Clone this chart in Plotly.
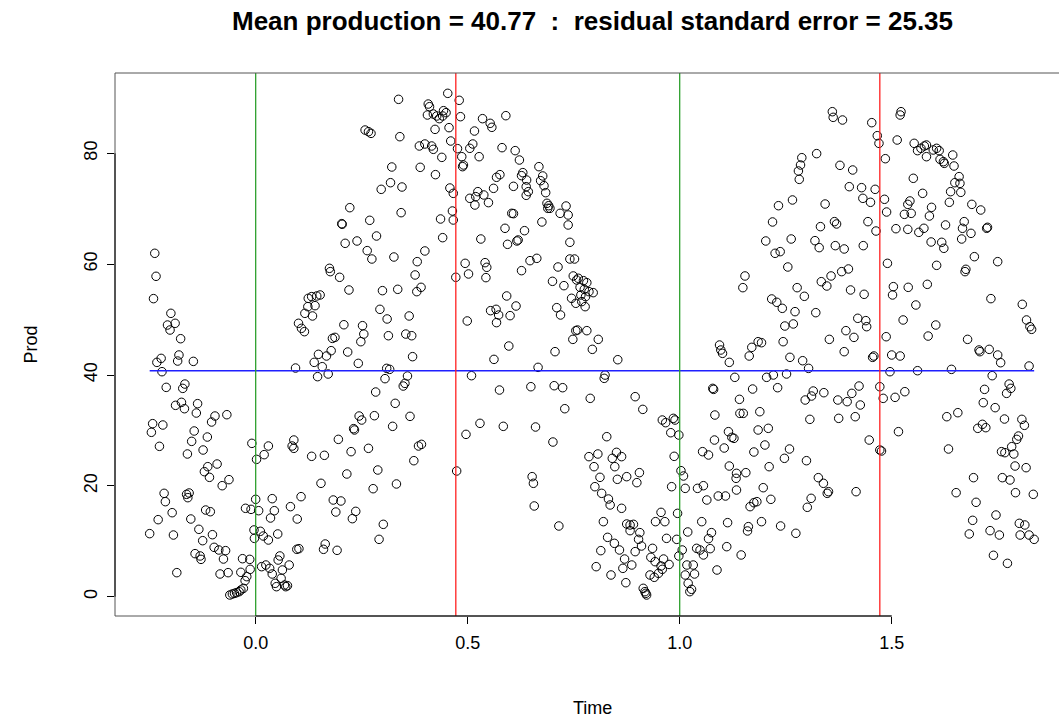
import plotly.graph_objects as go

# ---- data: production readings against time (cycle units) ----
time_1 = [-0.238, -0.235, -0.241, -0.200, -0.190, -0.208, -0.202, -0.177, -0.223, -0.233,
          -0.181, -0.184, -0.147, -0.221, -0.211, -0.167, -0.172, -0.189, -0.175, -0.168,
          -0.137, -0.140, -0.096, -0.104, -0.068, -0.243, -0.219, -0.246, -0.145, -0.151,
          -0.114, -0.227, -0.161, -0.124, -0.009, 0.002, 0.020, -0.091, -0.113, -0.121,
          -0.109, -0.063, -0.079, -0.216, -0.213, -0.163, -0.157, -0.160, -0.024, -0.011,
          0.000, 0.007, -0.118, -0.107, -0.197, -0.230, -0.153, -0.250, -0.194, -0.134,
          -0.102, -0.125, -0.004, 0.011, -0.003, 0.018, -0.098, -0.087, -0.071, -0.076,
          -0.143, -0.131, -0.129, -0.031, -0.014, 0.014, -0.186, -0.084, -0.065, -0.035,
          -0.013, -0.021, -0.025, -0.061, -0.055, -0.050, -0.045, -0.039, -0.035, -0.029,
          0.024]
prod_1 = [61.96, 57.81, 53.78, 51.13, 49.33, 49.02, 48.12, 46.55, 43.00, 42.28,
          43.61, 42.52, 42.46, 40.60, 37.77, 38.37, 37.59, 34.53, 35.07, 33.92,
          34.83, 33.14, 32.60, 31.52, 32.84, 31.22, 30.98, 29.66, 29.90, 28.03,
          28.81, 27.13, 25.75, 26.47, 27.67, 24.78, 25.63, 23.94, 23.46, 22.56,
          21.54, 21.12, 20.03, 18.65, 17.15, 18.47, 18.71, 17.87, 15.95, 15.76,
          17.57, 15.52, 15.64, 15.34, 15.16, 13.90, 14.02, 11.38, 11.13, 12.16,
          11.19, 10.11, 12.04, 11.80, 10.53, 10.95, 8.91, 8.43, 8.31, 6.80,
          7.77, 7.35, 6.74, 6.86, 6.74, 5.42, 4.34, 4.10, 4.34, 4.40,
          4.94, 3.62, 2.90, 0.31, 0.49, 0.61, 0.73, 0.91, 1.21, 1.51,
          5.72]

time_2 = [0.337, 0.258, 0.266, 0.272, 0.340, 0.386, 0.321, 0.388, 0.318, 0.296,
          0.345, 0.222, 0.204, 0.203, 0.269, 0.343, 0.285, 0.211, 0.239, 0.263,
          0.274, 0.326, 0.381, 0.376, 0.174, 0.176, 0.198, 0.220, 0.299, 0.335,
          0.380, 0.390, 0.124, 0.132, 0.144, 0.152, 0.123, 0.140, 0.116, 0.134,
          0.101, 0.208, 0.293, 0.310, 0.362, 0.108, 0.115, 0.252, 0.313, 0.354,
          0.368, 0.255, 0.248, 0.181, 0.187, 0.370, 0.178, 0.217, 0.167, 0.148,
          0.138, 0.157, 0.242, 0.094, 0.146, 0.171, 0.309, 0.316, 0.305, 0.358,
          0.352, 0.348, 0.283, 0.329, 0.244, 0.250, 0.231, 0.233, 0.280, 0.323,
          0.364, 0.030, 0.090, 0.086, 0.090, 0.132, 0.162, 0.195, 0.225, 0.266,
          0.384, 0.391, 0.373, 0.288, 0.215, 0.154, 0.277, 0.332, 0.039, 0.107,
          0.082, 0.044, 0.035, 0.098, 0.183, 0.201, 0.189, 0.236, 0.228, 0.301,
          0.291, 0.052, 0.030, 0.097, 0.102, 0.160, 0.164, 0.192, 0.057, 0.053,
          0.079, 0.033, 0.039, 0.063, 0.046, 0.049, 0.060, 0.068, 0.071, 0.075]
prod_2 = [89.74, 84.20, 83.90, 83.60, 83.00, 81.32, 77.53, 77.47, 74.70, 73.50,
          73.92, 70.19, 67.19, 67.31, 67.91, 69.29, 65.08, 63.76, 64.18, 62.44,
          60.93, 61.29, 60.45, 58.05, 59.25, 58.65, 57.63, 55.34, 55.22, 55.46,
          55.04, 55.82, 53.84, 54.14, 54.26, 54.44, 52.33, 52.51, 51.13, 50.65,
          49.33, 49.07, 51.85, 50.11, 50.65, 48.42, 47.82, 48.90, 47.09, 47.39,
          47.09, 47.39, 46.01, 46.61, 46.79, 43.31, 44.39, 44.15, 43.43, 43.73,
          42.28, 41.50, 42.10, 41.26, 39.70, 40.18, 41.20, 41.02, 39.34, 39.82,
          38.49, 38.01, 36.93, 34.89, 32.60, 31.88, 30.32, 30.08, 32.66, 30.74,
          32.54, 27.19, 28.27, 27.19, 26.77, 25.33, 25.51, 28.39, 26.17, 26.77,
          27.19, 27.49, 24.54, 22.86, 22.14, 20.46, 19.49, 20.34, 17.69, 18.05,
          16.25, 15.52, 14.20, 14.02, 17.45, 17.27, 15.28, 15.40, 14.08, 13.06,
          10.35, 11.32, 10.23, 8.55, 8.67, 8.55, 9.51, 8.37, 7.35, 6.62,
          5.72, 5.12, 4.10, 4.82, 2.42, 1.81, 3.32, 2.11, 1.81, 1.99]

time_3 = [0.453, 0.480, 0.407, 0.410, 0.405, 0.419, 0.427, 0.433, 0.443, 0.449,
          0.441, 0.483, 0.535, 0.553, 0.557, 0.590, 0.456, 0.423, 0.516, 0.460,
          0.399, 0.415, 0.419, 0.476, 0.505, 0.512, 0.486, 0.527, 0.439, 0.490,
          0.488, 0.581, 0.612, 0.622, 0.668, 0.424, 0.576, 0.568, 0.627, 0.630,
          0.639, 0.677, 0.672, 0.680, 0.684, 0.608, 0.638, 0.643, 0.638, 0.561,
          0.458, 0.466, 0.505, 0.519, 0.524, 0.538, 0.517, 0.549, 0.687, 0.691,
          0.694, 0.689, 0.732, 0.718, 0.737, 0.737, 0.604, 0.608, 0.464, 0.466,
          0.436, 0.675, 0.588, 0.634, 0.619, 0.616, 0.594, 0.531, 0.441, 0.399,
          0.741, 0.494, 0.502, 0.541, 0.545, 0.543, 0.472, 0.627, 0.647, 0.663,
          0.713, 0.741, 0.752, 0.749, 0.757, 0.700, 0.727, 0.592, 0.614, 0.600,
          0.554, 0.567, 0.573, 0.568, 0.499, 0.710, 0.719, 0.745, 0.755, 0.755,
          0.748, 0.597, 0.562, 0.706, 0.666, 0.509, 0.575, 0.649, 0.704, 0.724,
          0.729, 0.529, 0.496, 0.584, 0.660, 0.701, 0.474, 0.652, 0.655, 0.657,
          0.715, 0.761, 0.773, 0.781, 0.765, 0.775, 0.786, 0.796, 0.767, 0.778,
          0.769, 0.777]
prod_3 = [90.82, 89.56, 88.89, 88.41, 86.91, 87.09, 86.73, 86.25, 87.69, 87.33,
          86.73, 86.61, 86.25, 85.41, 84.69, 86.79, 84.63, 84.32, 84.02, 82.22,
          81.68, 81.32, 80.72, 80.84, 80.90, 81.68, 79.39, 79.39, 79.27, 77.89,
          77.59, 81.02, 80.48, 78.79, 77.59, 76.15, 76.15, 75.67, 75.97, 76.51,
          75.18, 75.91, 75.06, 74.16, 72.90, 74.04, 73.98, 73.08, 72.42, 73.68,
          73.74, 72.78, 71.88, 72.18, 73.08, 72.48, 70.67, 71.10, 70.98, 70.55,
          70.07, 70.07, 70.49, 69.17, 68.87, 67.07, 69.17, 69.11, 69.59, 67.97,
          68.15, 67.61, 66.47, 66.04, 64.36, 64.18, 63.58, 64.54, 64.78, 62.38,
          63.94, 60.15, 58.23, 60.27, 59.43, 57.57, 57.63, 58.83, 60.63, 61.05,
          59.49, 60.93, 60.93, 57.87, 57.14, 56.90, 56.12, 54.26, 52.45, 50.71,
          51.61, 51.85, 50.83, 49.45, 49.75, 52.15, 50.83, 53.84, 52.94, 48.00,
          46.43, 45.23, 42.82, 44.21, 41.38, 39.88, 37.29, 37.89, 38.07, 37.71,
          33.92, 31.28, 29.29, 30.74, 30.62, 27.91, 22.68, 21.66, 20.46, 16.37,
          12.76, 57.45, 57.02, 56.66, 55.82, 55.46, 55.04, 54.86, 54.44, 54.14,
          53.24, 52.33]

time_4 = [0.759, 0.781, 0.808, 0.794, 0.854, 0.824, 0.822, 0.789, 0.895, 0.913,
          0.959, 0.967, 0.985, 0.989, 0.979, 0.998, 0.828, 0.987, 0.786, 0.807,
          0.798, 0.841, 0.851, 0.863, 0.847, 1.003, 1.009, 0.812, 0.853, 0.875,
          0.905, 0.899, 0.800, 0.816, 0.832, 0.836, 0.863, 0.981, 1.013, 1.042,
          1.056, 1.064, 1.091, 1.108, 0.956, 0.995, 0.943, 0.965, 0.820, 0.875,
          0.883, 0.891, 0.883, 0.906, 0.903, 0.830, 0.846, 0.814, 0.858, 0.910,
          0.895, 0.936, 0.969, 0.993, 1.019, 1.052, 1.075, 1.068, 1.006, 0.998,
          1.040, 1.048, 1.056, 1.072, 0.870, 0.866, 0.887, 0.803, 0.838, 0.873,
          0.932, 0.942, 0.962, 0.956, 0.930, 0.940, 0.950, 0.975, 0.959, 1.017,
          1.032, 1.013, 1.035, 1.020, 1.028, 1.024, 0.914, 0.918, 0.922, 0.920,
          1.088, 1.111, 1.113, 1.117, 1.083, 1.082, 1.105, 1.054, 1.068, 1.078,
          1.080, 1.094, 1.097, 1.101, 1.117, 1.115, 1.123]
prod_4 = [48.12, 48.00, 46.43, 44.63, 42.76, 39.99, 39.40, 35.79, 36.09, 33.80,
          31.88, 31.40, 32.18, 31.88, 29.59, 29.17, 28.87, 25.33, 25.27, 25.75,
          23.46, 24.97, 26.05, 25.27, 23.46, 22.74, 21.78, 21.54, 21.18, 21.66,
          22.38, 20.58, 19.85, 18.65, 17.63, 16.55, 15.95, 19.85, 19.55, 19.55,
          20.03, 17.45, 18.17, 18.17, 15.22, 15.04, 13.54, 13.54, 13.54, 13.12,
          12.94, 13.06, 11.92, 11.56, 10.35, 10.71, 9.63, 8.31, 8.43, 9.15,
          8.13, 8.73, 10.53, 10.35, 11.68, 13.54, 11.56, 10.47, 8.43, 7.35,
          8.73, 8.43, 7.53, 8.67, 6.80, 5.12, 5.72, 5.42, 3.92, 2.53,
          7.10, 6.32, 6.80, 5.54, 3.92, 3.50, 4.22, 5.82, 4.94, 5.72,
          5.72, 3.92, 4.10, 2.42, 1.33, 0.91, 1.51, 0.91, 0.31, 0.61,
          4.82, 9.03, 13.36, 23.58, 32.78, 28.27, 26.83, 26.17, 25.57, 37.59,
          37.41, 45.41, 44.51, 43.91, 42.28, 29.78, 28.75]

time_5 = [1.360, 1.362, 1.384, 1.453, 1.466, 1.470, 1.485, 1.323, 1.288, 1.285,
          1.280, 1.282, 1.378, 1.408, 1.400, 1.429, 1.461, 1.432, 1.450, 1.483,
          1.488, 1.266, 1.233, 1.343, 1.219, 1.332, 1.365, 1.370, 1.444, 1.463,
          1.203, 1.263, 1.225, 1.237, 1.319, 1.329, 1.367, 1.388, 1.433, 1.255,
          1.490, 1.154, 1.149, 1.277, 1.294, 1.334, 1.347, 1.357, 1.382, 1.398,
          1.403, 1.435, 1.217, 1.229, 1.242, 1.272, 1.321, 1.268, 1.420, 1.439,
          1.248, 1.392, 1.411, 1.441, 1.353, 1.388, 1.244, 1.193, 1.185, 1.170,
          1.164, 1.260, 1.290, 1.304, 1.455, 1.458, 1.487, 1.130, 1.205, 1.221,
          1.252, 1.231, 1.172, 1.141, 1.315, 1.311, 1.296, 1.340, 1.373, 1.395,
          1.406, 1.423, 1.426, 1.472, 1.480, 1.307, 1.375, 1.414, 1.447, 1.476,
          1.472, 1.189, 1.150, 1.142, 1.128, 1.185, 1.209, 1.201, 1.175, 1.259,
          1.247, 1.299, 1.211, 1.327, 1.339, 1.351, 1.348, 1.416, 1.134, 1.133,
          1.156, 1.134, 1.197, 1.215, 1.175, 1.182, 1.166, 1.310, 1.301, 1.162,
          1.160, 1.193, 1.238, 1.274, 1.145]
prod_5 = [87.51, 86.49, 86.01, 85.53, 83.18, 81.80, 79.03, 79.94, 79.21, 77.89,
          76.81, 75.30, 77.83, 76.99, 73.98, 73.80, 73.50, 71.88, 71.16, 71.70,
          69.41, 71.58, 70.55, 70.85, 67.61, 66.77, 67.67, 67.25, 67.67, 65.98,
          64.18, 64.54, 61.96, 62.26, 64.24, 62.98, 63.34, 62.74, 63.34, 59.49,
          60.15, 57.87, 55.76, 55.76, 54.20, 56.84, 56.06, 57.87, 58.65, 59.13,
          55.34, 54.56, 53.72, 53.12, 52.03, 51.43, 51.25, 49.21, 50.23, 49.81,
          48.84, 48.00, 46.79, 48.72, 46.43, 44.21, 46.01, 45.83, 46.01, 44.99,
          43.43, 43.19, 42.58, 41.20, 43.19, 43.43, 46.91, 39.58, 39.58, 40.00,
          40.18, 37.71, 37.47, 35.61, 37.11, 36.21, 35.49, 36.81, 35.49, 35.19,
          36.69, 38.01, 34.59, 37.89, 35.79, 32.00, 32.18, 32.48, 28.27, 26.29,
          26.47, 33.38, 33.08, 33.08, 28.57, 30.08, 30.38, 27.37, 26.11, 26.65,
          24.97, 24.54, 23.46, 21.48, 20.46, 18.95, 18.65, 18.95, 22.26, 21.36,
          22.38, 19.25, 19.67, 17.57, 16.97, 17.15, 16.25, 17.75, 16.13, 12.64,
          11.86, 13.54, 12.76, 11.44, 7.53]

time_6 = [1.522, 1.520, 1.513, 1.553, 1.561, 1.569, 1.577, 1.582, 1.582, 1.598,
          1.606, 1.612, 1.614, 1.622, 1.624, 1.644, 1.647, 1.551, 1.573, 1.659,
          1.649, 1.661, 1.639, 1.663, 1.636, 1.689, 1.710, 1.543, 1.538, 1.530,
          1.546, 1.594, 1.589, 1.510, 1.538, 1.564, 1.576, 1.627, 1.671, 1.667,
          1.687, 1.665, 1.593, 1.618, 1.623, 1.724, 1.726, 1.606, 1.695, 1.675,
          1.673, 1.750, 1.504, 1.502, 1.539, 1.584, 1.557, 1.734, 1.808, 1.527,
          1.818, 1.604, 1.586, 1.679, 1.706, 1.708, 1.730, 1.750, 1.757, 1.826,
          1.830, 1.500, 1.520, 1.496, 1.561, 1.641, 1.824, 1.737, 1.777, 1.781,
          1.771, 1.719, 1.716, 1.744, 1.766, 1.807, 1.813, 1.703, 1.714, 1.722,
          1.799, 1.795, 1.783, 1.759, 1.767, 1.788, 1.791, 1.817, 1.531, 1.508,
          1.630, 1.656, 1.516, 1.634, 1.693, 1.761, 1.779, 1.792, 1.834, 1.652,
          1.699, 1.746, 1.691, 1.683, 1.732, 1.754, 1.801, 1.814, 1.803, 1.824,
          1.836, 1.740, 1.773]
prod_6 = [87.51, 86.91, 82.40, 81.80, 80.48, 80.90, 81.32, 81.50, 79.39, 80.60,
          80.90, 80.48, 78.91, 78.49, 78.19, 79.69, 77.71, 75.49, 72.78, 75.79,
          74.70, 74.58, 73.08, 72.96, 71.16, 70.79, 69.77, 71.40, 70.79, 68.99,
          69.17, 70.25, 68.69, 66.40, 66.28, 65.74, 66.47, 67.07, 67.67, 66.47,
          65.56, 64.54, 64.00, 63.94, 62.86, 66.47, 66.65, 59.79, 61.35, 59.07,
          58.65, 60.45, 55.94, 54.44, 55.82, 56.36, 52.63, 53.78, 52.75, 49.93,
          49.93, 49.02, 47.03, 46.43, 44.51, 44.21, 44.63, 43.61, 42.22, 48.72,
          48.24, 43.61, 43.43, 40.60, 40.78, 41.02, 41.62, 39.88, 38.37, 37.59,
          36.69, 37.41, 35.01, 34.11, 32.06, 32.00, 30.92, 30.38, 31.10, 30.50,
          28.99, 28.39, 27.07, 26.17, 25.99, 25.75, 23.58, 23.28, 36.99, 35.97,
          32.48, 33.20, 29.78, 26.65, 21.48, 21.48, 21.06, 18.77, 18.47, 18.77,
          17.03, 14.74, 13.78, 11.32, 11.92, 11.13, 13.24, 12.94, 11.13, 11.13,
          10.35, 7.47, 6.02]

mean_prod = 40.77
resid_se = 25.35
cycle_starts = [0.0, 1.0]      # green markers
peak_times = [0.472, 1.472]    # red markers
x_ticks = [0.0, 0.5, 1.0, 1.5]
x_tick_text = ["0.0", "0.5", "1.0", "1.5"]
y_ticks = [0, 20, 40, 60, 80]

time_vals = time_1 + time_2 + time_3 + time_4 + time_5 + time_6
prod_vals = prod_1 + prod_2 + prod_3 + prod_4 + prod_5 + prod_6

# ---- figure geometry ----
W, H = 1059, 721
ML, MR, MT, MB = 115, 0, 73, 105
X_RANGE = [-0.3318, 1.8946]
Y_RANGE = [-3.48, 94.49]
FONT = "Liberation Sans, Arial, Helvetica, sans-serif"
BOX = "#555555"

fig = go.Figure()

fig.add_trace(go.Scatter(
    x=time_vals, y=prod_vals, mode="markers",
    marker=dict(symbol="circle-open", size=8.5, color="black",
                line=dict(width=1, color="black")),
    hoverinfo="x+y", showlegend=False))

fig.add_trace(go.Scatter(
    x=[min(time_vals), max(time_vals)], y=[mean_prod, mean_prod],
    mode="lines", line=dict(color="#1f1fff", width=1.3),
    hoverinfo="skip", showlegend=False))

shapes = []
for xv in cycle_starts:
    shapes.append(dict(type="line", xref="x", yref="paper", x0=xv, x1=xv, y0=0, y1=1,
                       line=dict(color="#2ea02e", width=1.3), layer="above"))
for xv in peak_times:
    shapes.append(dict(type="line", xref="x", yref="paper", x0=xv, x1=xv, y0=0, y1=1,
                       line=dict(color="#ff2020", width=1.3), layer="above"))

# frame: left and top edges, bottom edge up to the last tick
shapes.append(dict(type="line", xref="paper", yref="paper", x0=0, x1=0, y0=0, y1=1,
                   line=dict(color=BOX, width=1), layer="above"))
shapes.append(dict(type="line", xref="paper", yref="paper", x0=0, x1=1, y0=1, y1=1,
                   line=dict(color=BOX, width=1), layer="above"))
shapes.append(dict(type="line", xref="x", yref="paper", x0=X_RANGE[0], x1=x_ticks[-1],
                   y0=0, y1=0, line=dict(color=BOX, width=1), layer="above"))
# axis lines spanning the tick range
shapes.append(dict(type="line", xref="x", yref="paper", x0=x_ticks[0], x1=x_ticks[-1],
                   y0=0, y1=0, line=dict(color="black", width=1), layer="above"))
shapes.append(dict(type="line", xref="paper", yref="y", x0=0, x1=0,
                   y0=y_ticks[0], y1=y_ticks[-1], line=dict(color="black", width=1),
                   layer="above"))

title_text = (f"<b>Mean production = {mean_prod:.2f}  :  "
              f"residual standard error = {resid_se:.2f}</b>")
plot_w = W - ML - MR
plot_h = H - MT - MB

annotations = [
    dict(text=title_text, xref="paper", yref="paper",
         x=(592.5 - ML) / plot_w, y=1 + (MT - 21) / plot_h,
         xanchor="center", yanchor="middle", showarrow=False,
         font=dict(family=FONT, size=26, color="black")),
    dict(text="Time", xref="paper", yref="paper",
         x=(592.5 - ML) / plot_w, y=-(708 - (H - MB)) / plot_h,
         xanchor="center", yanchor="middle", showarrow=False,
         font=dict(family=FONT, size=18, color="black")),
    dict(text="Prod", xref="paper", yref="paper",
         x=(30 - ML) / plot_w, y=0.5, textangle=-90,
         xanchor="center", yanchor="middle", showarrow=False,
         font=dict(family=FONT, size=18, color="black")),
]

fig.update_layout(
    width=W, height=H,
    margin=dict(l=ML, r=MR, t=MT, b=MB, pad=0, autoexpand=False),
    paper_bgcolor="white", plot_bgcolor="white",
    font=dict(family=FONT, color="black"),
    shapes=shapes, annotations=annotations,
    showlegend=False,
    xaxis=dict(range=X_RANGE, showgrid=False, zeroline=False, showline=False,
               ticks="outside", ticklen=7, tickwidth=1, tickcolor="black",
               tickvals=x_ticks, ticktext=x_tick_text,
               tickfont=dict(family=FONT, size=18, color="black"),
               ticklabelstandoff=3, automargin=False, fixedrange=True),
    yaxis=dict(range=Y_RANGE, showgrid=False, zeroline=False, showline=False,
               ticks="outside", ticklen=7, tickwidth=1, tickcolor="black",
               tickvals=y_ticks, ticktext=[str(v) for v in y_ticks],
               tickangle=-90,
               tickfont=dict(family=FONT, size=18, color="black"),
               ticklabelstandoff=3, automargin=False, fixedrange=True),
)

fig.write_html("out.html")
